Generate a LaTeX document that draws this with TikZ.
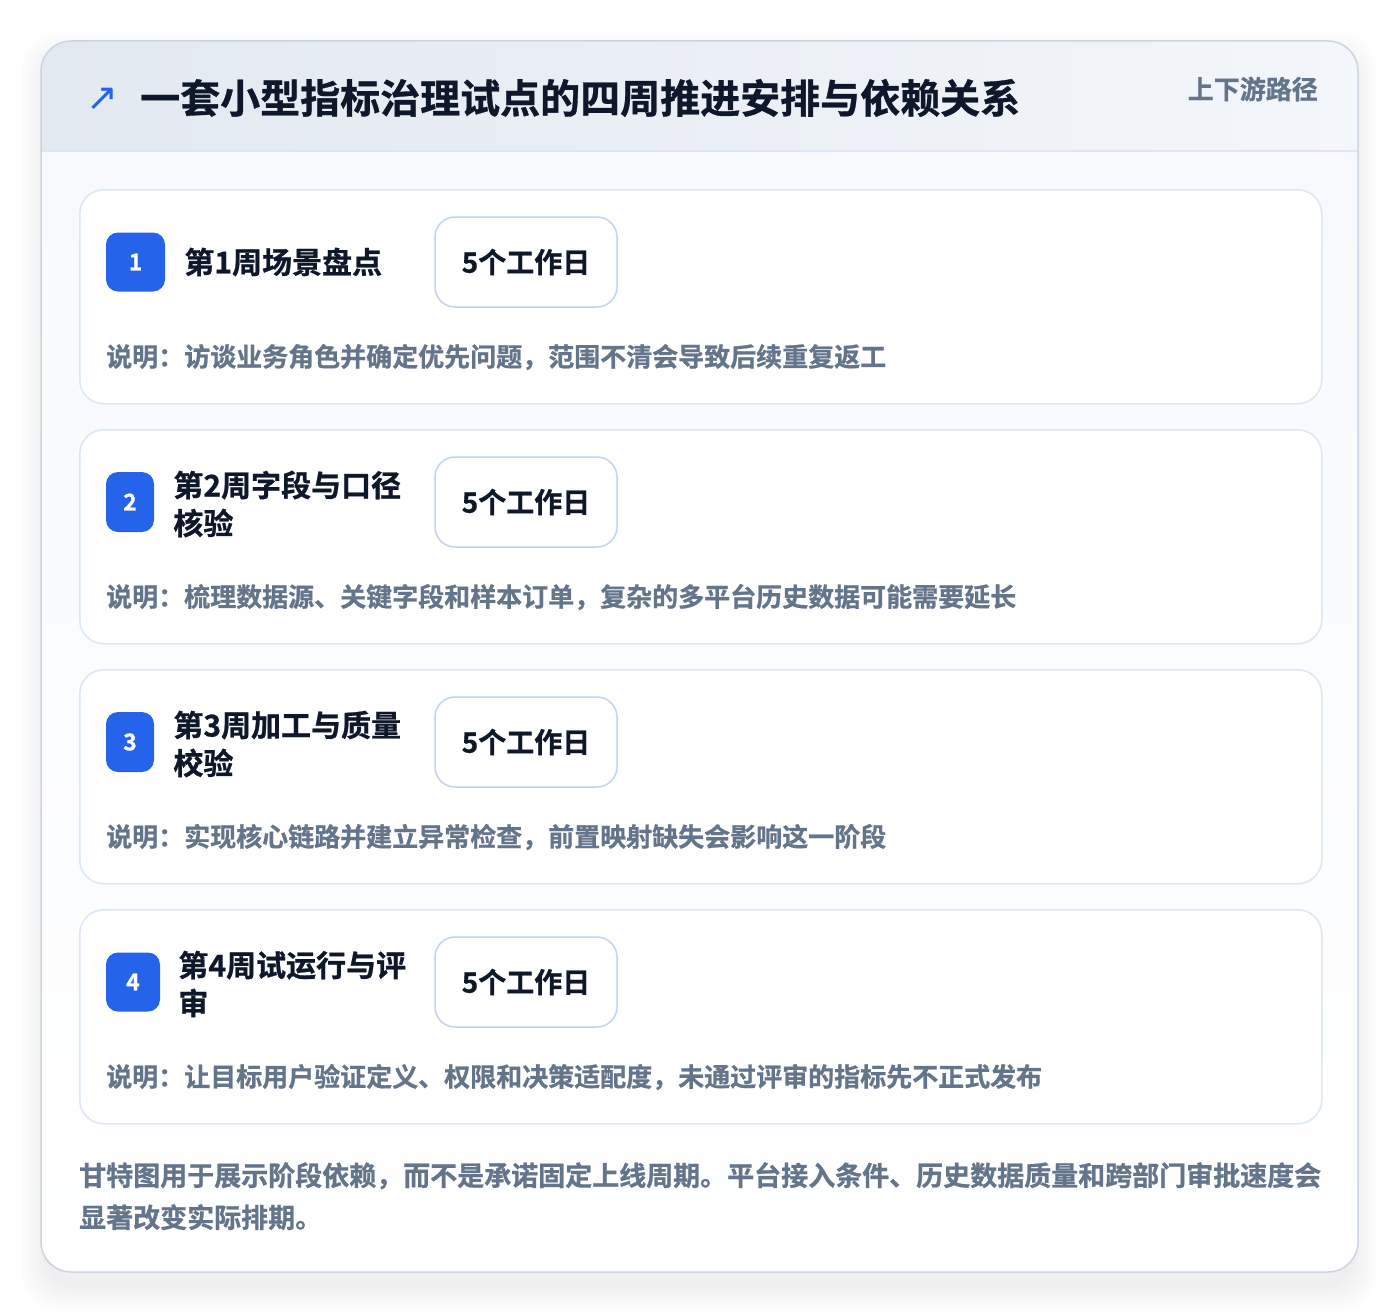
\documentclass[tikz,border=0pt]{standalone}
\usepackage{fontspec}
\setmainfont{Noto Sans CJK SC}[BoldFont={Noto Sans CJK SC Bold}, BoldFeatures={FakeBold=0.8}]
\newfontfamily\symfont{DejaVu Sans}
\usetikzlibrary{positioning}

\definecolor{inkdark}{HTML}{0F172A}
\definecolor{inkgray}{HTML}{64748B}
\definecolor{badgeblue}{HTML}{2563EB}
\definecolor{frameline}{HTML}{CBD5E1}
\definecolor{cardline}{HTML}{DBE7F6}
\definecolor{boxline}{HTML}{BED5F3}
\definecolor{headleft}{HTML}{E3E9F1}
\definecolor{headright}{HTML}{F3F6FA}
\definecolor{bodytop}{HTML}{F7F9FC}

\begin{document}
\begin{tikzpicture}[x=1pt, y=-1pt,
every node/.style={inner sep=0pt, font=\bfseries},
phase/.style={rectangle, draw=cardline, line width=1.5pt, fill=white, rounded corners=24pt, minimum width=1242pt, minimum height=214pt, anchor=north west},
badge/.style={rectangle, fill=badgeblue, text=white, rounded corners=12pt, minimum height=59pt, font=\bfseries\fontsize{23}{26}\selectfont},
phasename/.style={text=inkdark, align=left, anchor=west, font=\bfseries\fontsize{30}{38}\selectfont},
duration/.style={rectangle, draw=boxline, line width=1.5pt, fill=white, rounded corners=20pt, minimum width=182pt, minimum height=90pt, text=inkdark, font=\bfseries\fontsize{28}{32}\selectfont},
note/.style={text=inkgray, anchor=west, font=\bfseries\fontsize{26}{30}\selectfont},
shade box/.style={fill=black, opacity=0.008, rounded corners=34pt}
]

\useasboundingbox [fill=white] (0,0) rectangle (1400,1314);

% soft shadow of the frame
\foreach \s in {2,5,...,23}
  \fill [shade box] (41-\s+4,41-\s+16) rectangle (1358+\s-4,1272+\s+14);

% frame, header band and body
\begin{scope}
  \clip [rounded corners=30pt] (41,41) rectangle (1358,1272);
  \shade [top color=bodytop, bottom color=white] (41,151) rectangle (1358,1272);
  \shade [left color=headleft, right color=headright] (41,41) rectangle (1358,151);
\end{scope}
\draw [cardline, line width=1.5pt] (41,151) -- (1358,151);
\draw [frameline, line width=1.5pt, rounded corners=30pt] (41,41) rectangle (1358,1272);

\node [text=badgeblue, font=\symfont\fontsize{38}{42}\selectfont] (arrow) at (102,99) {↗};
\node [text=inkdark, anchor=west, font=\bfseries\fontsize{40}{46}\selectfont] (title) at (140,98) {一套小型指标治理试点的四周推进安排与依赖关系};
\node [text=inkgray, anchor=east, font=\bfseries\fontsize{26}{30}\selectfont] (tag) at (1318,89) {上下游路径};

% phase cards
\node [phase] (card1) at (79,189) {};
\node [phase] (card2) at (79,429) {};
\node [phase] (card3) at (79,669) {};
\node [phase] (card4) at (79,909) {};

\node [badge, minimum width=59pt] (badge1) at (135.5,262) {1};
\node [badge, minimum width=48pt, minimum height=60pt] (badge2) at (130,502) {2};
\node [badge, minimum width=48pt, minimum height=60pt] (badge3) at (130,742) {3};
\node [badge, minimum width=54pt] (badge4) at (133,982) {4};

\node [phasename] (name1) [right=19pt of badge1] {第1周场景盘点};
\node [phasename] (name2) [right=19pt of badge2, yshift=-2pt] {第2周字段与口径\\核验};
\node [phasename] (name3) [right=19pt of badge3, yshift=-2pt] {第3周加工与质量\\校验};
\node [phasename] (name4) [right=18pt of badge4, yshift=-2pt] {第4周试运行与评\\审};

\node [duration] (days1) at (526,262) {5个工作日};
\node [duration] (days2) at (526,502) {5个工作日};
\node [duration] (days3) at (526,742) {5个工作日};
\node [duration] (days4) at (526,982) {5个工作日};

\node [note] (note1) at (106,357) {说明：访谈业务角色并确定优先问题，范围不清会导致后续重复返工};
\node [note] (note2) at (106,597) {说明：梳理数据源、关键字段和样本订单，复杂的多平台历史数据可能需要延长};
\node [note] (note3) at (106,837) {说明：实现核心链路并建立异常检查，前置映射缺失会影响这一阶段};
\node [note] (note4) at (106,1077) {说明：让目标用户验证定义、权限和决策适配度，未通过评审的指标先不正式发布};

% footer remark
\node [text=inkgray, align=left, anchor=north west, font=\bfseries\fontsize{27}{42}\selectfont] (remark) at (79,1162) {甘特图用于展示阶段依赖，而不是承诺固定上线周期。平台接入条件、历史数据质量和跨部门审批速度会\\显著改变实际排期。};

\end{tikzpicture}
\end{document}
